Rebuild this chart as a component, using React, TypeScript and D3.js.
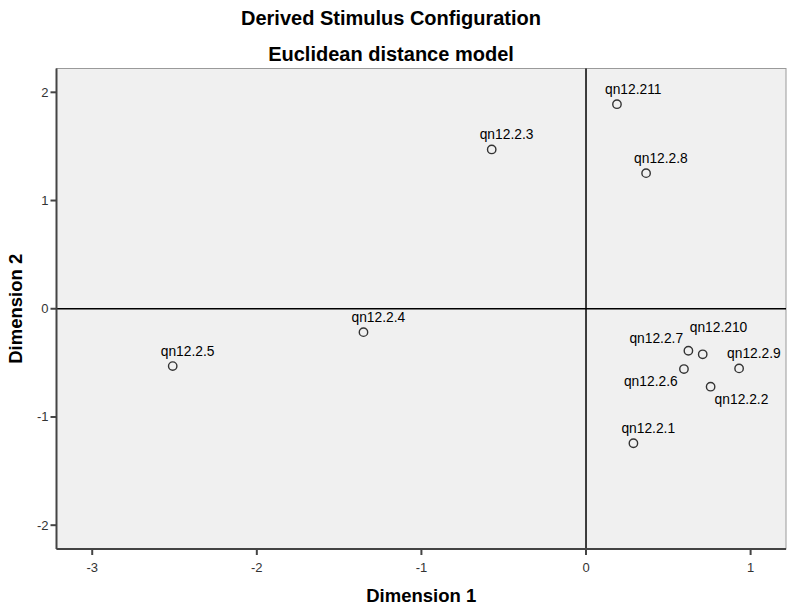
import React from 'react';
import * as d3 from 'd3';

const names = ['qn12.2.1', 'qn12.2.2', 'qn12.2.3', 'qn12.2.4', 'qn12.2.5', 'qn12.2.6', 'qn12.2.7', 'qn12.2.8', 'qn12.2.9', 'qn12.210', 'qn12.211'];
const dim1 = [0.288, 0.757, -0.573, -1.352, -2.511, 0.595, 0.622, 0.365, 0.930, 0.709, 0.188];
const dim2 = [-1.243, -0.720, 1.472, -0.216, -0.530, -0.557, -0.388, 1.253, -0.551, -0.421, 1.890];
const xTicks = [-3, -2, -1, 0, 1];
const yTicks = [-2, -1, 0, 1, 2];

// where each label sits relative to its marker (label start, baseline)
const labelOffset: Record<string, [number, number]> = {
  'qn12.2.6': [-60, 17],
  'qn12.2.7': [-59, -8],
  'qn12.2.2': [4, 17],
  'qn12.210': [-13, -22],
};

const W = 787, H = 608;
const left = 56.5, right = 786, top = 68.5, bottom = 549;
const font = 'Liberation Sans, Arial, sans-serif';

export default function App() {
  const x = d3.scaleLinear().domain([-3.217, 1.215]).range([left, right]);
  const y = d3.scaleLinear().domain([-2.22, 2.22]).range([bottom, top]);

  return (
    <svg width={W} height={H} style={{ position: 'absolute', left: 0, top: 0, background: '#fff' }} fontFamily={font}>
      <text x={391} y={25} textAnchor="middle" fontSize={20} fontWeight="bold" fill="#000">Derived Stimulus Configuration</text>
      <text x={391} y={61} textAnchor="middle" fontSize={20} fontWeight="bold" fill="#000">Euclidean distance model</text>

      <rect x={left} y={top} width={right - left} height={bottom - top} fill="#f0f0f0" stroke="#9a9a9a" strokeWidth={1} />

      <line x1={x(0)} x2={x(0)} y1={top} y2={bottom} stroke="#000" strokeWidth={1.5} />
      <line x1={left} x2={right} y1={y(0)} y2={y(0)} stroke="#000" strokeWidth={1.5} />

      {/* axes */}
      <line x1={left} x2={right} y1={bottom} y2={bottom} stroke="#444" strokeWidth={2} />
      <line x1={left} x2={left} y1={top} y2={bottom} stroke="#444" strokeWidth={2} />
      {xTicks.map(t => (
        <g key={'x' + t}>
          <line x1={x(t)} x2={x(t)} y1={bottom} y2={bottom + 6} stroke="#444" strokeWidth={2} />
          <text x={x(t)} y={bottom + 23} textAnchor="middle" fontSize={13} fill="#333">{t}</text>
        </g>
      ))}
      {yTicks.map(t => (
        <g key={'y' + t}>
          <line x1={left - 6} x2={left} y1={y(t)} y2={y(t)} stroke="#444" strokeWidth={2} />
          <text x={left - 8} y={y(t) + 4.5} textAnchor="end" fontSize={13} fill="#333">{t}</text>
        </g>
      ))}

      <text x={(left + right) / 2} y={602} textAnchor="middle" fontSize={18.5} fontWeight="bold" fill="#000">Dimension 1</text>
      <text transform={`translate(22 ${(top + bottom) / 2}) rotate(-90)`} textAnchor="middle" fontSize={18.5} fontWeight="bold" fill="#000">Dimension 2</text>

      {names.map((n, i) => {
        const [dx, dy] = labelOffset[n] || [-12, -10];
        return (
          <g key={n}>
            <circle cx={x(dim1[i])} cy={y(dim2[i])} r={4.2} fill="#f0f0f0" stroke="#333" strokeWidth={1.4} />
            <text x={x(dim1[i]) + dx} y={y(dim2[i]) + dy} fontSize={13.8} fill="#000">{n}</text>
          </g>
        );
      })}
    </svg>
  );
}
